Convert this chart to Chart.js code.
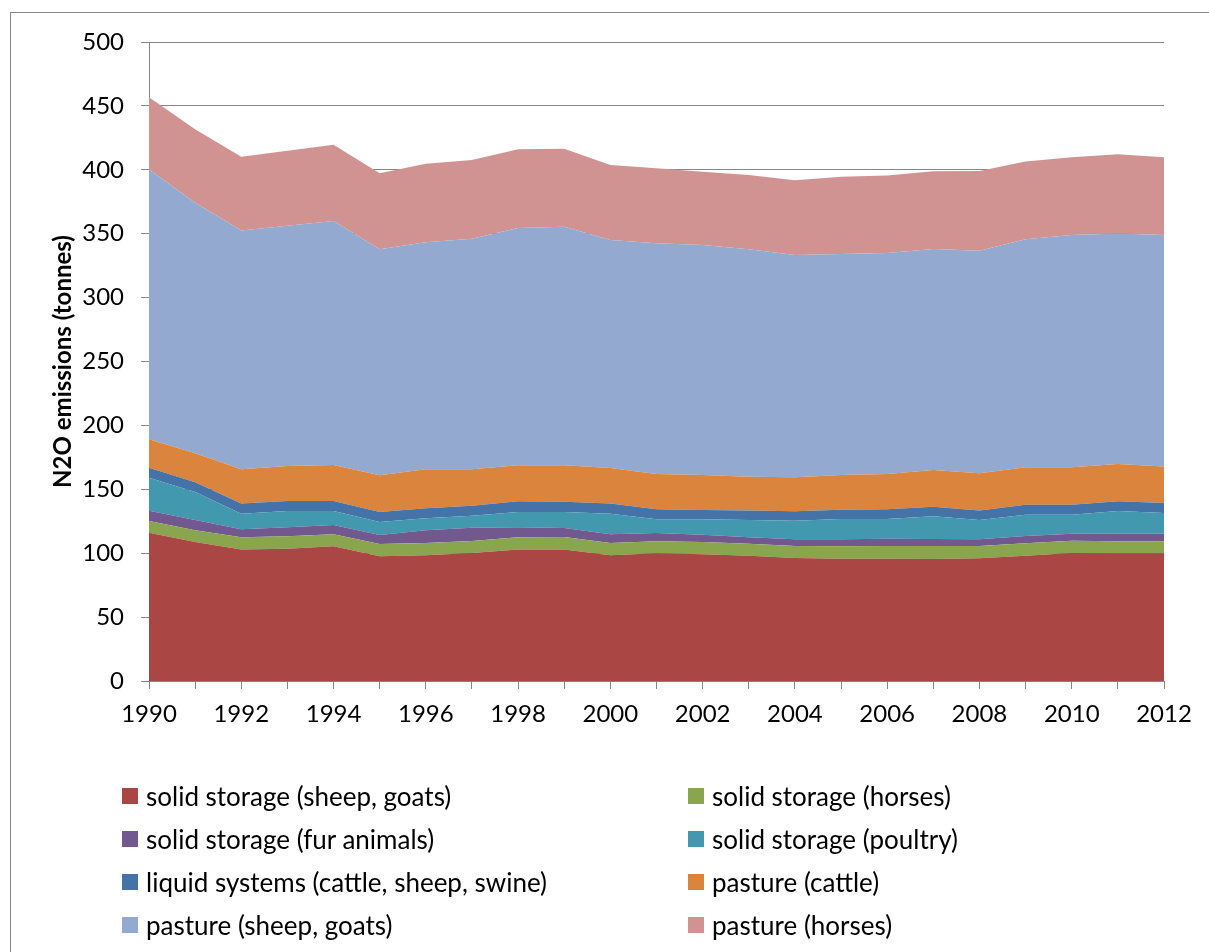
<!DOCTYPE html>
<html>
<head>
<meta charset="utf-8">
<script src="https://cdn.jsdelivr.net/npm/chart.js@4.4.1/dist/chart.umd.min.js"></script>
<style>
  html, body { margin: 0; padding: 0; background: #fff; }
  #wrap { position: relative; width: 1209px; height: 952px; overflow: hidden; background: #fff; }
  #frame { position: absolute; left: 10px; top: 12px; width: 1400px; height: 1200px; border: 1.5px solid #868686; box-sizing: border-box; }
  #c { position: absolute; left: 0; top: 0; }
  .lg { position: absolute; font-family: Lato, "Open Sans", sans-serif; font-size: 26px; color: #000; white-space: nowrap; line-height: 16px; }
  .lg span.box { display: inline-block; width: 16px; height: 16px; vertical-align: top; margin-right: 8px; }
</style>
</head>
<body>
<div id="wrap">
  <div id="frame"></div>
  <canvas id="c" width="1209" height="952"></canvas>
  <div id="legend"></div>
</div>
<script>
const years = ['1990','1991','1992','1993','1994','1995','1996','1997','1998','1999','2000','2001','2002','2003','2004','2005','2006','2007','2008','2009','2010','2011','2012'];

const solidSheepGoats = [116.0,108.8,102.8,103.5,105.4,97.6,98.3,100.2,102.8,102.8,98.3,99.9,99.1,98.0,96.2,95.7,95.7,95.5,96.0,98.0,100.2,99.9,99.9];
const solidHorses     = [9.2,9.1,9.6,9.7,9.4,9.6,9.7,9.3,9.6,9.9,9.7,9.4,9.7,9.4,9.4,9.7,9.9,10.1,9.6,9.7,9.6,9.4,9.4];
const solidFur        = [8.1,8.1,6.3,7.1,7.3,7.0,9.9,10.5,7.9,7.0,6.8,6.5,5.7,5.0,5.3,5.5,5.8,5.5,5.3,5.8,5.5,6.0,6.0];
const solidPoultry    = [25.8,21.9,12.2,12.7,10.9,10.2,9.4,9.3,11.9,12.5,16.1,10.7,12.0,13.6,14.5,15.9,15.4,17.8,15.1,16.6,14.8,17.7,16.2];
const liquidSystems   = [7.8,7.6,7.9,7.8,7.8,7.8,7.8,7.9,8.4,8.1,7.9,7.8,7.3,7.5,7.4,7.2,7.5,7.5,7.5,7.9,7.9,7.6,7.8];
const pastureCattle   = [22.2,22.7,26.8,27.4,28.2,28.7,30.5,28.4,28.2,28.5,27.9,27.7,27.4,26.4,26.6,27.2,27.7,28.7,29.0,29.2,29.2,29.2,28.6];
const pastureSheep    = [211.2,196.1,187.0,188.1,190.9,176.9,177.7,180.5,185.7,186.7,178.4,180.5,180.0,177.9,173.9,172.9,172.9,172.9,174.2,178.4,181.8,180.3,181.1];
const pastureHorses   = [56.4,57.4,57.6,58.6,59.7,59.5,61.5,61.6,61.5,61.0,58.7,58.7,57.3,58.1,58.5,60.5,60.7,60.8,62.4,60.8,60.8,62.0,60.8];

const seriesNames = [
  'solid storage (sheep, goats)',
  'solid storage (horses)',
  'solid storage (fur animals)',
  'solid storage (poultry)',
  'liquid systems (cattle, sheep, swine)',
  'pasture (cattle)',
  'pasture (sheep, goats)',
  'pasture (horses)'
];
const seriesValues = [solidSheepGoats, solidHorses, solidFur, solidPoultry, liquidSystems, pastureCattle, pastureSheep, pastureHorses];
const seriesColors = ['#AA4643','#89A54E','#71588F','#4198AF','#4572A7','#DB843D','#93A9CF','#D19392'];

const FONT = 'Lato, "Open Sans", sans-serif';

const datasets = seriesNames.map((name, i) => ({
  label: name,
  data: seriesValues[i],
  backgroundColor: seriesColors[i],
  borderColor: 'rgba(0,0,0,0)',
  borderWidth: 0,
  pointRadius: 0,
  pointHoverRadius: 0,
  tension: 0,
  fill: i === 0 ? 'origin' : '-1'
}));

new Chart(document.getElementById('c'), {
  type: 'line',
  data: { labels: years, datasets },
  options: {
    responsive: false,
    animation: false,
    devicePixelRatio: 1,
    layout: { padding: { left: 0, top: 42, right: 45, bottom: 211 } },
    plugins: { legend: { display: false }, tooltip: { enabled: false } },
    scales: {
      x: {
        offset: false,
        grid: { display: true, drawOnChartArea: false, drawTicks: true, tickLength: 8, color: '#868686', lineWidth: 1 },
        border: { display: true, color: '#868686', width: 1 },
        ticks: {
          autoSkip: false, maxRotation: 0, minRotation: 0, padding: 11,
          color: '#000', font: { family: FONT, size: 24 },
          callback: (v, i) => (i % 2 === 0 ? years[i] : '')
        },
        afterFit: (s) => { s.height = 60; }
      },
      y: {
        stacked: true,
        min: 0, max: 500,
        grid: { color: '#868686', lineWidth: 1, drawTicks: true, tickLength: 8 },
        border: { display: true, color: '#868686', width: 1 },
        ticks: { stepSize: 50, padding: 17, color: '#000', font: { family: FONT, size: 24 } },
        title: { display: true, text: 'N2O emissions (tonnes)', color: '#000', font: { family: FONT, size: 24, weight: 'bold' }, padding: { top: 49, bottom: 0 } },
        afterFit: (s) => { s.width = 149; }
      }
    }
  }
});

// HTML legend, two columns, row-major
const legend = document.getElementById('legend');
seriesNames.forEach((name, i) => {
  const col = i % 2, row = Math.floor(i / 2);
  const d = document.createElement('div');
  d.className = 'lg';
  d.style.left = (col === 0 ? 122 : 688) + 'px';
  d.style.top = (788 + row * 43) + 'px';
  d.innerHTML = '<span class="box" style="background:' + seriesColors[i] + '"></span>' + name;
  legend.appendChild(d);
});
</script>
</body>
</html>
